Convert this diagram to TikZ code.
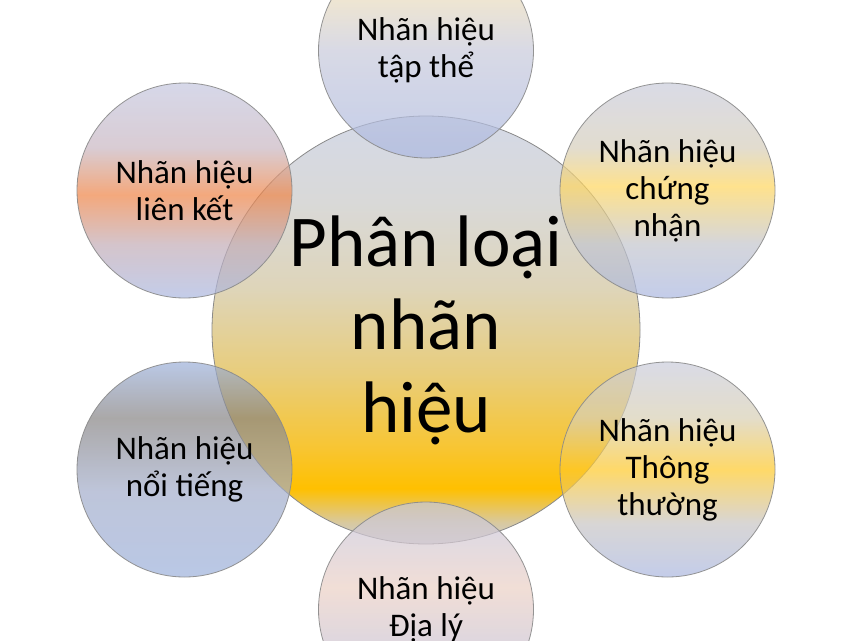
\documentclass[tikz,border=0pt]{standalone}
\usepackage{fontspec}
\setmainfont{Carlito}
\definecolor{cTop}{HTML}{D4D9E7}
\definecolor{cUp}{HTML}{D9D9D8}
\definecolor{cMid}{HTML}{DED5BA}
\definecolor{cTan}{HTML}{E8CD7C}
\definecolor{cWarm}{HTML}{F8C530}
\definecolor{cGold}{HTML}{FFC000}
\definecolor{cLow}{HTML}{D8C9A0}
\definecolor{cBot}{HTML}{CACCD6}
\definecolor{sBlue}{HTML}{ABB8E1}
\definecolor{sLav}{HTML}{C6C8E0}
\definecolor{sGrayBlue}{HTML}{CACDDC}
\definecolor{sBeige}{HTML}{E8DBBF}
\definecolor{sMidGray}{HTML}{C8CADB}
\definecolor{sSalmon}{HTML}{EF8446}
\definecolor{sLinkHi}{HTML}{C9B7C2}
\definecolor{sLinkLo}{HTML}{C3ACB6}
\definecolor{sPale}{HTML}{FFD65E}
\definecolor{sCertHi}{HTML}{D6CEBB}
\definecolor{sCertLo}{HTML}{C3C5CD}
\definecolor{sYellow}{HTML}{FFC92A}
\definecolor{sComHi}{HTML}{D8CFB4}
\definecolor{sComLo}{HTML}{C8C5C4}
\definecolor{sTaupe}{HTML}{878484}
\definecolor{sTopBlue}{HTML}{9DB1DB}
\definecolor{sFamLo}{HTML}{A3ADCB}
\definecolor{sPeach}{HTML}{ECD0C5}
\definecolor{sLav2}{HTML}{C4C7E0}
\definecolor{edge}{HTML}{8A8A8A}
\pgfdeclareverticalshading{shC}{100bp}{color(0bp)=(cBot); color(25bp)=(cBot); color(27.5bp)=(cLow); color(31.5bp)=(cGold); color(36bp)=(cWarm); color(45bp)=(cTan); color(55bp)=(cMid); color(65bp)=(cUp); color(75bp)=(cTop); color(100bp)=(cTop)}
\pgfdeclareverticalshading{shTop}{100bp}{color(0bp)=(sBlue); color(25bp)=(sBlue); color(50bp)=(sMidGray); color(62bp)=(sBeige); color(75bp)=(sBeige); color(100bp)=(sBeige)}
\pgfdeclareverticalshading{shLink}{100bp}{color(0bp)=(sBlue); color(25bp)=(sBlue); color(37.5bp)=(sLinkLo); color(49bp)=(sSalmon); color(60bp)=(sLinkHi); color(75bp)=(sLav); color(100bp)=(sLav)}
\pgfdeclareverticalshading{shCert}{100bp}{color(0bp)=(sBlue); color(25bp)=(sBlue); color(37.5bp)=(sCertLo); color(51bp)=(sPale); color(60bp)=(sCertHi); color(75bp)=(sGrayBlue); color(100bp)=(sGrayBlue)}
\pgfdeclareverticalshading{shFamous}{100bp}{color(0bp)=(sTopBlue); color(25bp)=(sTopBlue); color(45bp)=(sFamLo); color(62bp)=(sTaupe); color(75bp)=(sTopBlue); color(100bp)=(sTopBlue)}
\pgfdeclareverticalshading{shCommon}{100bp}{color(0bp)=(sBlue); color(25bp)=(sBlue); color(37.5bp)=(sComLo); color(50bp)=(sYellow); color(62bp)=(sComHi); color(75bp)=(sGrayBlue); color(100bp)=(sGrayBlue)}
\pgfdeclareverticalshading{shGeo}{100bp}{color(0bp)=(sBlue); color(25bp)=(sBlue); color(55bp)=(sPeach); color(75bp)=(sLav2); color(100bp)=(sLav2)}
\tikzset{
  ctr/.style={circle, minimum size=428pt, inner sep=0pt, outer sep=0pt, draw=edge, line width=0.8pt,
    align=center, font=\fontsize{73}{83}\selectfont},
  sat/.style={circle, minimum size=215pt, inner sep=0pt, outer sep=0pt, draw=edge, line width=0.8pt,
    fill opacity=0.7, text opacity=1, draw opacity=0.9,
    align=center, font=\fontsize{33}{37}\selectfont}
}
\begin{document}
\begin{tikzpicture}[x=1pt,y=-1pt]
\clip (0,0) rectangle (848,640);
\fill[white] (0,0) rectangle (848,640);
\node[ctr, shading=shC] (center) at (426,330) {Phân loại\\nhãn\\hiệu};
\node[sat, shading=shTop] (tapthe) at (426,50.5) {Nhãn hiệu\\tập thể};
\node[sat, shading=shLink] (lienket) at (184.5,190.5) {Nhãn hiệu\\liên kết};
\node[sat, shading=shCert] (chungnhan) at (667.5,190.5) {Nhãn hiệu\\chứng\\nhận};
\node[sat, shading=shFamous] (noitieng) at (184.5,469.5) {Nhãn hiệu\\nổi tiếng};
\node[sat, shading=shCommon] (thongthuong) at (667.5,469.5) {Nhãn hiệu\\Thông\\thường};
\node[sat, shading=shGeo] (dialy) at (426,609.5) {Nhãn hiệu\\Địa lý};
\end{tikzpicture}
\end{document}
